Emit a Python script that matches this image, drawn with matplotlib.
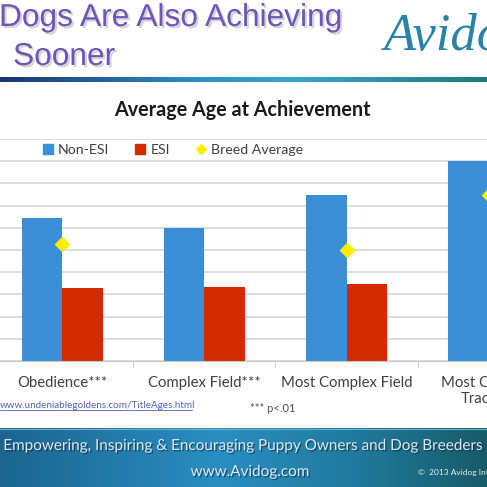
import numpy as np
import matplotlib
matplotlib.use("Agg")
import matplotlib.pyplot as plt
import matplotlib.patheffects as pe
from matplotlib.patches import Patch
from matplotlib.lines import Line2D
from matplotlib.colors import LinearSegmentedColormap

categories = ["Obedience***", "Complex Field***", "Most Complex Field", "Most Complex\nTracking"]
non_esi = [32.1, 30.0, 37.5, 45.0]
esi = [16.5, 16.7, 17.4, 18.0]
breed_avg = [26.3, np.nan, 25.0, 37.4]
series_labels = ["Non-ESI", "ESI", "Breed Average"]

W = H = 487
fig = plt.figure(figsize=(4.87, 4.87), dpi=100)


def fx(px):
    return px / W


def fy(py):
    return 1 - py / H


# decoration layer in pixel coordinates
deco = fig.add_axes([0, 0, 1, 1], zorder=0)

footer_cmap = LinearSegmentedColormap.from_list(
    "footer", [(0, "#1b6590"), (0.45, "#2a8ec2"), (0.75, "#1f789a"), (1, "#175b68")])
deco.imshow(np.linspace(0, 1, 256)[None, :], cmap=footer_cmap, aspect="auto",
            extent=(0, W, H, 428))
deco.plot([0, W], [428.5, 428.5], color="#6fb0d0", lw=0.8)

bar_cmap = LinearSegmentedColormap.from_list(
    "divider", [(0, "#1a3570"), (0.4, "#2c8cc8"), (0.6, "#3aa4cc"), (1, "#1f7a78")])
deco.imshow(np.linspace(0, 1, 256)[None, :], cmap=bar_cmap, aspect="auto",
            extent=(0, W, 82, 77))

deco.set_xlim(0, W)
deco.set_ylim(H, 0)
deco.axis("off")

shadow = [pe.SimplePatchShadow(offset=(1.5, -1.5), shadow_rgbFace="#888888", alpha=0.35), pe.Normal()]
title_kw = dict(fontsize=22.8, family="Liberation Sans", color="#6e55b6",
                va="baseline", path_effects=shadow)
deco.text(-1, 26, "Dogs Are Also Achieving", **title_kw)
deco.text(-3, 65, "e", ha="right", **title_kw)
deco.text(13, 65, "Sooner", **title_kw)
deco.text(384, 50, "Avidog", fontsize=38, family="Liberation Serif", style="italic",
          color="#2b84a8", va="baseline")

deco.text(242, 110, "Average Age at Achievement", fontsize=14.2, weight="bold",
          family=["Lato", "DejaVu Sans"], color="#1a1a1a", ha="center", va="center")

deco.text(0, 405, "www.undeniablegoldens.com/TitleAges.html", fontsize=7.1,
          family=["Lato", "DejaVu Sans"], color="#5560c0", va="center")
deco.plot([0, 192], [410, 410], color="#5560c0", lw=0.6)
deco.text(250, 409, "*** p<.01", fontsize=8, family=["Lato", "DejaVu Sans"],
          color="#505050", va="center")

foot_shadow = [pe.SimplePatchShadow(offset=(1, -1), shadow_rgbFace="#0a2a3a", alpha=0.6), pe.Normal()]
deco.text(243, 446, "Empowering, Inspiring & Encouraging Puppy Owners and Dog Breeders",
          fontsize=11, family=["Lato", "DejaVu Sans"], color="#dfe8ee",
          ha="center", va="center", path_effects=foot_shadow)
deco.text(250, 472, "www.Avidog.com", fontsize=11, family=["Lato", "DejaVu Sans"],
          color="#dfe8ee", ha="center", va="center", path_effects=foot_shadow)
deco.text(418, 473, "\u00a9  2013 Avidog International", fontsize=6, family=["Lato", "DejaVu Sans"],
          color="#e6eef2", va="center")

# chart
ax = fig.add_axes([fx(-8.9), fy(361), 568.8 / W, 222 / H], zorder=1)
x = np.arange(len(categories))
w = 0.2855
ax.bar(x - w / 2, non_esi, w, color="#3a8fd6", zorder=2)
ax.bar(x + w / 2, esi, w, color="#d42a00", zorder=2)
ax.plot(x, breed_avg, ls="none", marker="D", ms=7.5, color="#ffee00", zorder=3)

ax.set_xlim(-0.5, 3.5)
ax.set_ylim(0, 50)
ax.set_yticks(np.arange(0, 51, 5))
ax.yaxis.grid(True, color="#d4d4d4", lw=1.1)
ax.set_axisbelow(True)
ax.tick_params(axis="y", length=0, labelleft=False)
for s in ["top", "right", "left"]:
    ax.spines[s].set_visible(False)
ax.spines["bottom"].set_color("#c8c8c8")
ax.set_xticks(x, categories, fontsize=10.7, color="#404040", family=["Lato", "DejaVu Sans"])
ax.tick_params(axis="x", length=0, pad=11)
ax.set_xticks(x[:-1] + 0.5, minor=True)
ax.tick_params(axis="x", which="minor", length=5, color="#c8c8c8")

handles = [Patch(color="#3a8fd6"), Patch(color="#d42a00"),
           Line2D([], [], ls="none", marker="D", ms=5, color="#ffee00")]
fig.legend(handles, series_labels, loc="center", bbox_to_anchor=(fx(173), fy(150)),
           ncol=3, frameon=False, prop={"family": ["Lato", "DejaVu Sans"], "size": 10.2},
           labelcolor="#404040", handlelength=0.7, handleheight=0.7,
           handletextpad=0.4, columnspacing=1.8)

fig.savefig("out.png", dpi=100)
